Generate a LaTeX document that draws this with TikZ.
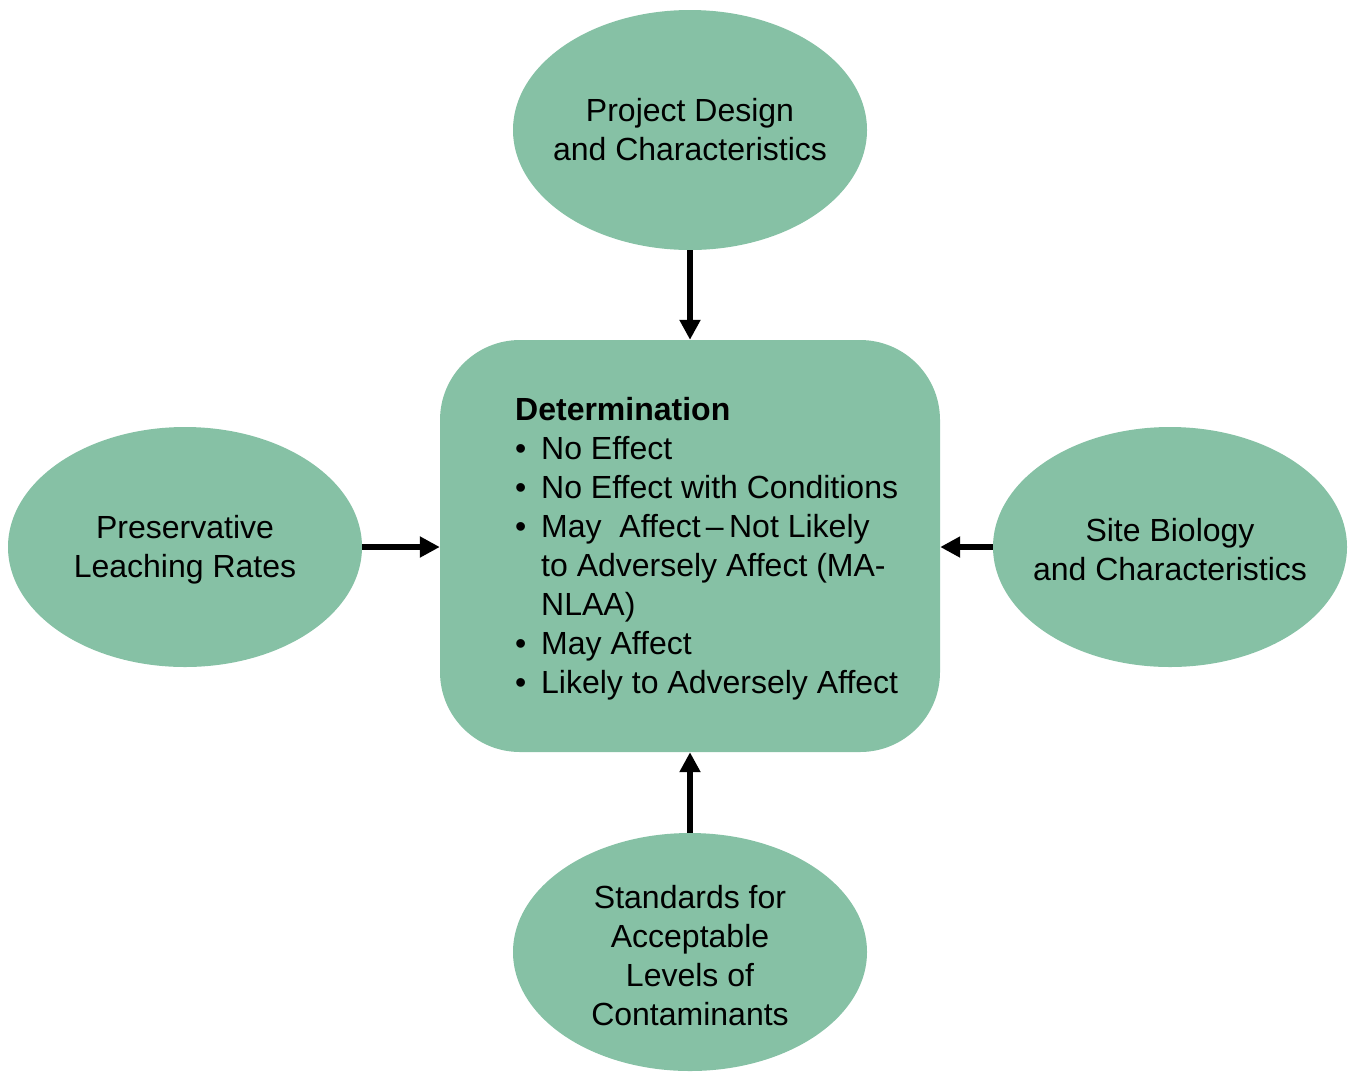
\documentclass[tikz,border=0pt]{standalone}
\usepackage{fontspec}
\setmainfont{Liberation Sans}
\usetikzlibrary{shapes.geometric,arrows.meta}
\definecolor{sage}{RGB}{134,193,165}
\tikzset{
  oval/.style={ellipse, fill=sage, minimum width=354pt, minimum height=240pt,
    inner sep=0pt},
  ovaltext/.style={align=center, inner sep=0pt,
    font=\fontsize{32}{39}\selectfont},
  panel/.style={rectangle, rounded corners=80pt, fill=sage,
    minimum width=500pt, minimum height=412pt, inner sep=0pt},
  listtext/.style={align=left, inner sep=0pt, anchor=north west,
    font=\fontsize{32}{39}\selectfont},
  feed/.style={line width=6pt, -{Triangle[width=20pt,length=20pt]}}
}
\newcommand{\bul}{\makebox[26pt][l]{\textbullet}}
\begin{document}
\begin{tikzpicture}[x=1pt,y=-1pt]
  \useasboundingbox (0,0) rectangle (1351,1072);

  % central determination panel
  \node[panel] (det) at (690,546) {};
  \node[listtext] (dettext) at (515,397) {%
    \textbf{Determination}\\
    \bul No Effect\\
    \bul No Effect with Conditions\\
    \bul May\ \ Affect\,--\,Not Likely\\
    \hspace*{26pt}to Adversely Affect (MA-\\
    \hspace*{26pt}NLAA)\\
    \bul May Affect\\
    \bul Likely to Adversely Affect};

  % surrounding inputs
  \node[oval] (project) at (690,130) {};
  \node[ovaltext] (projectlabel) at (690,130) {Project Design\\and Characteristics};
  \node[oval] (leach) at (185,547) {};
  \node[ovaltext] (leachlabel) at (185,550) {Preservative\\Leaching Rates};
  \node[oval] (site) at (1170,547) {};
  \node[ovaltext] (sitelabel) at (1170,550) {Site Biology\\and Characteristics};
  \node[oval, minimum height=238pt] (standards) at (690,952) {};
  \node[ovaltext] (standardslabel) at (690,956)
    {Standards for\\Acceptable\\Levels of\\Contaminants};

  % inputs feeding the determination
  \draw[feed] (project.south) -- (det.north);
  \draw[feed] (leach.east) -- (leach.east -| det.west);
  \draw[feed] (site.west) -- (site.west -| det.east);
  \draw[feed] (standards.north) -- (det.south);
\end{tikzpicture}
\end{document}
